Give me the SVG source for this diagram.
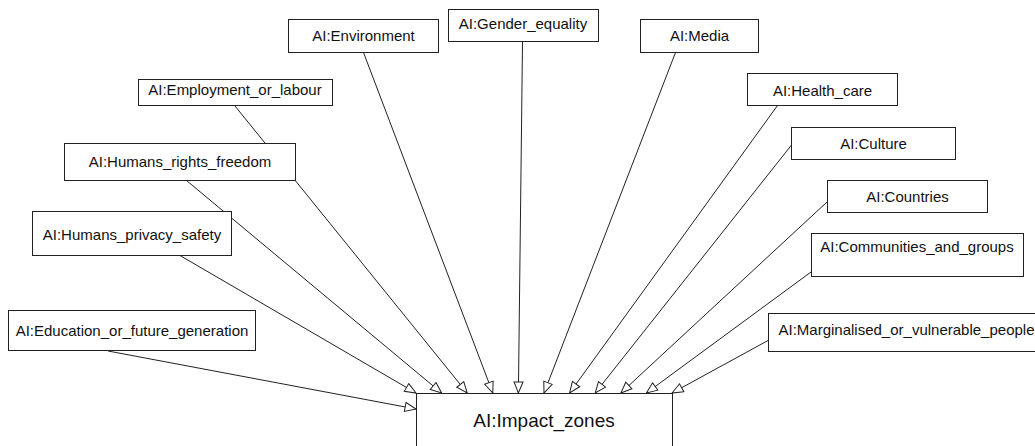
<svg xmlns="http://www.w3.org/2000/svg" width="1035" height="446" viewBox="0 0 1035 446">
  <style>
    .box { fill: #ffffff; stroke: #222222; stroke-width: 1; }
    .lbl { font-family: "Liberation Sans", Arial, sans-serif; font-size: 15px; fill: #111111; text-anchor: middle; }
    .big { font-size: 19px; }
    .edge { fill: none; stroke: #222222; stroke-width: 1; marker-end: url(#open); }
  </style>
  <defs>
    <marker id="open" markerUnits="userSpaceOnUse" markerWidth="14" markerHeight="12" viewBox="-1 -1 14 12" refX="11" refY="4.5" orient="auto">
      <path d="M0,0 L11,4.5 L0,9 Z" fill="#ffffff" stroke="#222222" stroke-width="1"/>
    </marker>
  </defs>
  <rect width="1035" height="446" fill="#ffffff"/>

  <!-- connectors into AI:Impact_zones -->
  <g id="connectors">
    <path class="edge" d="M108,351 L416,409"/>
    <path class="edge" d="M180,255.5 L416,393"/>
    <path class="edge" d="M186.5,180.5 L441.6,393"/>
    <path class="edge" d="M235,106 L467.2,393"/>
    <path class="edge" d="M363.5,52.5 L492.8,393"/>
    <path class="edge" d="M522.5,42 L518.4,393"/>
    <path class="edge" d="M675.5,52.5 L544,393"/>
    <path class="edge" d="M777.5,105.5 L569.6,393"/>
    <path class="edge" d="M791.5,145 L595.2,393"/>
    <path class="edge" d="M827,202 L620.8,393"/>
    <path class="edge" d="M811,272 L646.4,393"/>
    <path class="edge" d="M768,340.5 L672,393"/>
  </g>

  <g id="n-environment">
    <rect class="box" x="288.5" y="19.5" width="150" height="33"/>
    <text class="lbl" x="363.5" y="40.5">AI:Environment</text>
  </g>
  <g id="n-gender-equality">
    <rect class="box" x="448.5" y="9.5" width="150" height="32"/>
    <text class="lbl" x="523" y="29">AI:Gender_equality</text>
  </g>
  <g id="n-employment">
    <rect class="box" x="138.5" y="79.5" width="194" height="26"/>
    <text class="lbl" x="235" y="95">AI:Employment_or_labour</text>
  </g>
  <g id="n-human-rights">
    <rect class="box" x="64.5" y="143.5" width="231" height="37"/>
    <text class="lbl" x="180" y="166.5">AI:Humans_rights_freedom</text>
  </g>
  <g id="n-privacy">
    <rect class="box" x="32.5" y="211.5" width="199" height="44"/>
    <text class="lbl" x="132" y="240">AI:Humans_privacy_safety</text>
  </g>
  <g id="n-education">
    <rect class="box" x="8.5" y="310.5" width="247" height="40"/>
    <text class="lbl" x="132" y="336">AI:Education_or_future_generation</text>
  </g>
  <g id="n-media">
    <rect class="box" x="640.5" y="19.5" width="118" height="33"/>
    <text class="lbl" x="699.5" y="41">AI:Media</text>
  </g>
  <g id="n-health-care">
    <rect class="box" x="747.5" y="73.5" width="150" height="32"/>
    <text class="lbl" x="822.5" y="95.5">AI:Health_care</text>
  </g>
  <g id="n-culture">
    <rect class="box" x="791.5" y="127.5" width="164" height="32"/>
    <text class="lbl" x="873.5" y="148.5">AI:Culture</text>
  </g>
  <g id="n-countries">
    <rect class="box" x="827.5" y="180.5" width="160" height="32"/>
    <text class="lbl" x="907.5" y="201.5">AI:Countries</text>
  </g>
  <g id="n-communities">
    <rect class="box" x="811.5" y="233.5" width="212" height="43"/>
    <text class="lbl" x="917" y="252">AI:Communities_and_groups</text>
  </g>
  <g id="n-marginalised">
    <rect class="box" x="768.5" y="313.5" width="277" height="38"/>
    <text class="lbl" x="906.5" y="335">AI:Marginalised_or_vulnerable_people</text>
  </g>
  <g id="n-impact-zones">
    <rect class="box" x="416.5" y="393.5" width="256" height="70"/>
    <text class="lbl big" x="544" y="426.5">AI:Impact_zones</text>
  </g>
</svg>
